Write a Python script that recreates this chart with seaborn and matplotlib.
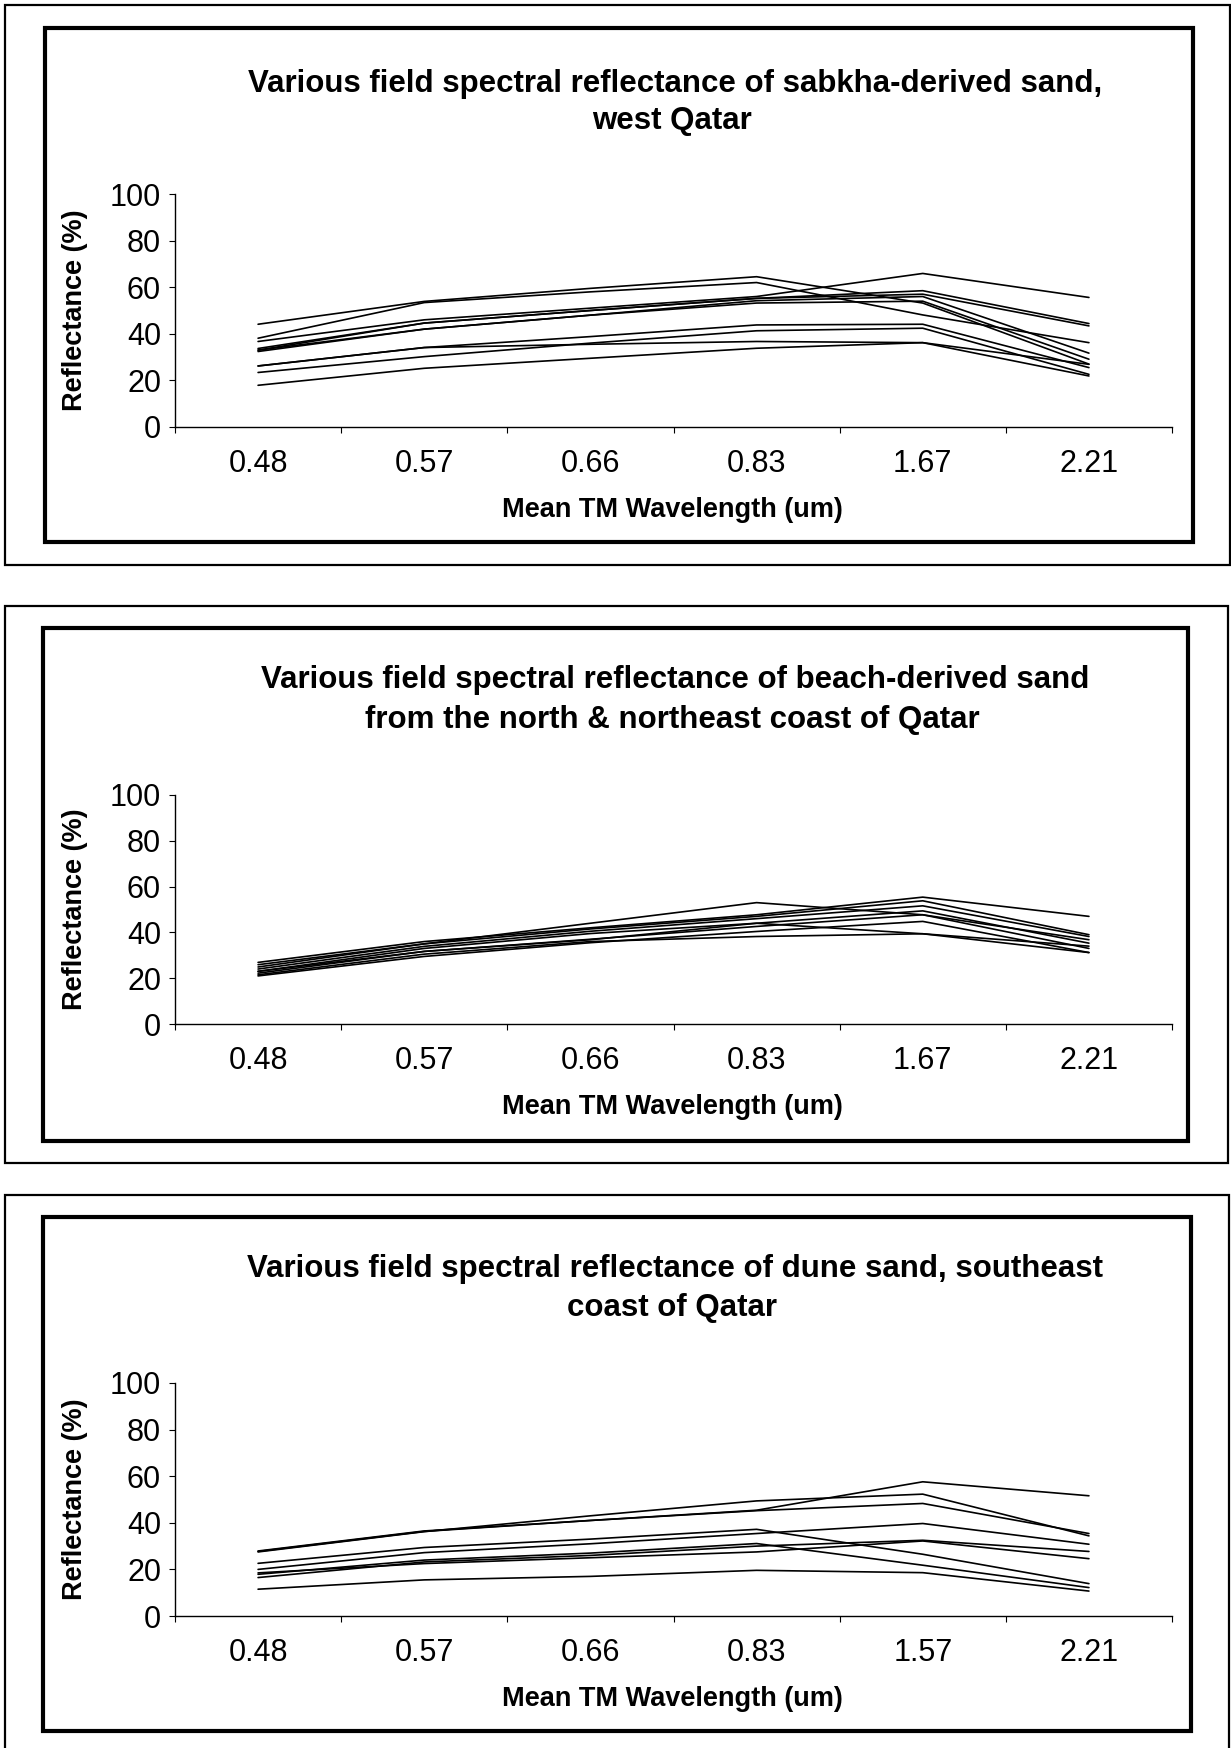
import numpy as np
import pandas as pd
import matplotlib
matplotlib.use("Agg")
import matplotlib.pyplot as plt
from matplotlib.patches import Rectangle
import seaborn as sns

# ---------------- data ----------------
bands_a = ["0.48", "0.57", "0.66", "0.83", "1.67", "2.21"]
bands_b = ["0.48", "0.57", "0.66", "0.83", "1.67", "2.21"]
bands_c = ["0.48", "0.57", "0.66", "0.83", "1.57", "2.21"]

sabkha_curves = [
    [44.1, 53.9, 59.5, 64.5, 53.2, 27.0],
    [38.1, 53.4, 58.0, 62.0, 48.1, 36.2],
    [36.7, 46.0, 51.0, 56.0, 65.9, 55.6],
    [33.7, 44.6, 50.0, 55.2, 58.5, 44.4],
    [33.0, 44.6, 50.0, 55.2, 57.0, 43.4],
    [32.4, 42.0, 48.0, 54.2, 56.0, 31.7],
    [33.0, 42.0, 48.0, 53.2, 54.0, 29.1],
    [26.2, 34.1, 38.8, 43.8, 44.1, 25.5],
    [23.4, 30.2, 36.0, 41.3, 42.4, 22.6],
    [17.9, 25.2, 29.5, 33.8, 36.2, 21.9],
    [26.2, 34.1, 35.5, 36.7, 36.2, 26.9],
]

beach_curves = [
    [24.9, 35.0, 44.0, 53.0, 47.7, 36.8],
    [26.9, 36.0, 42.0, 47.7, 55.4, 47.0],
    [25.9, 35.0, 41.5, 47.0, 53.8, 39.0],
    [24.0, 33.9, 40.5, 46.0, 51.6, 38.2],
    [23.0, 33.0, 39.5, 44.0, 49.4, 35.3],
    [22.2, 31.7, 37.0, 42.6, 47.7, 33.0],
    [21.0, 29.5, 35.5, 40.4, 44.8, 31.2],
    [23.0, 31.7, 36.8, 44.0, 39.4, 31.2],
    [21.5, 30.5, 36.0, 38.2, 39.4, 34.0],
]

dune_curves = [
    [27.9, 36.5, 41.0, 45.4, 57.6, 51.6],
    [27.5, 36.2, 43.0, 49.4, 52.3, 34.4],
    [27.7, 36.3, 41.0, 45.2, 48.3, 35.4],
    [22.6, 29.4, 33.0, 37.2, 26.5, 13.9],
    [20.0, 27.2, 31.0, 35.4, 39.7, 30.8],
    [17.9, 24.0, 27.0, 31.1, 21.8, 12.2],
    [16.5, 23.2, 26.0, 30.0, 32.5, 27.7],
    [18.5, 22.5, 25.0, 27.5, 32.2, 24.6],
    [11.5, 15.5, 17.0, 19.6, 18.6, 10.7],
]

titles = [
    ["Various field spectral reflectance of sabkha-derived sand,", "west Qatar"],
    ["Various field spectral reflectance of beach-derived sand",
     "from the north & northeast coast of Qatar"],
    ["Various field spectral reflectance of dune sand, southeast", "coast of Qatar"],
]
y_ticks = [0, 20, 40, 60, 80, 100]
x_label = "Mean TM Wavelength (um)"
y_label = "Reflectance (%)"

# ---------------- style ----------------
sns.set_theme(style="white")
plt.rcParams["font.family"] = ["Liberation Sans", "DejaVu Sans"]

W, H = 1231, 1748
fig = plt.figure(figsize=(W / 100, H / 100), dpi=100)
fig.patch.set_facecolor("white")


def fx(px):
    return px / W


def fy(py):
    return 1 - py / H


def box(x0, y0, x1, y1, lw):
    r = Rectangle((fx(x0), fy(y1)), fx(x1) - fx(x0), fy(y0) - fy(y1),
                  transform=fig.transFigure, fill=False, edgecolor="black",
                  linewidth=lw, zorder=0)
    fig.patches.append(r)


panels = [
    dict(curves=sabkha_curves, bands=bands_a, title=titles[0],
         outer=(5, 5, 1230, 565), inner=(45, 28, 1193, 542),
         ax_top=194, ax_bot=427, t1=84, t2=121, xl=510),
    dict(curves=beach_curves, bands=bands_b, title=titles[1],
         outer=(5, 606, 1228, 1163), inner=(43, 628, 1188, 1141),
         ax_top=795, ax_bot=1024, t1=680, t2=720, xl=1107),
    dict(curves=dune_curves, bands=bands_c, title=titles[2],
         outer=(5, 1195, 1229, 1760), inner=(43, 1217, 1191, 1731),
         ax_top=1383, ax_bot=1616, t1=1269, t2=1308, xl=1699),
]

AX_L, AX_R = 175, 1172

for p in panels:
    box(*p["outer"], lw=1.6)
    box(*p["inner"], lw=3.0)

    rows = []
    for i, c in enumerate(p["curves"]):
        for j, v in enumerate(c):
            rows.append({"sample": i, "band": j, "refl": v})
    df = pd.DataFrame(rows)

    ax = fig.add_axes([fx(AX_L), fy(p["ax_bot"]), fx(AX_R) - fx(AX_L),
                       fy(p["ax_top"]) - fy(p["ax_bot"])])
    ax.set_facecolor("none")
    sns.lineplot(data=df, x="band", y="refl", units="sample", estimator=None,
                 color="black", linewidth=1.2, ax=ax, legend=False)

    ax.set_xlim(-0.5, len(p["bands"]) - 0.5)
    ax.set_ylim(0, 100)
    ax.set_xticks(range(len(p["bands"])))
    ax.set_xticklabels(p["bands"])
    ax.set_xticks(np.arange(-0.5, len(p["bands"]), 1.0), minor=True)
    ax.set_yticks(y_ticks)
    ax.tick_params(axis="x", which="major", length=0, pad=16, labelsize=22,
                   colors="black")
    ax.tick_params(axis="x", which="minor", length=4, width=0.8, direction="out",
                   bottom=True, colors="black")
    ax.tick_params(axis="y", which="major", length=4, width=0.8, direction="out",
                   left=True, pad=6, labelsize=22, colors="black")
    for s in ["top", "right"]:
        ax.spines[s].set_visible(False)
    for s in ["left", "bottom"]:
        ax.spines[s].set_color("black")
        ax.spines[s].set_linewidth(1.0)
    ax.grid(False)

    ax_h = p["ax_bot"] - p["ax_top"]
    ax_w = AX_R - AX_L
    ax.set_xlabel(x_label, fontsize=19.5, fontweight="bold", color="black")
    ax.xaxis.label.set_va("center")
    ax.xaxis.set_label_coords((672 - AX_L) / ax_w, -(p["xl"] - p["ax_bot"]) / ax_h)
    ax.set_ylabel(y_label, fontsize=19.5, fontweight="bold", color="black")
    ax.yaxis.label.set_va("center")
    ax.yaxis.set_label_coords((75 - AX_L) / ax_w, 0.5)

    fig.text(fx(675), fy(p["t1"]), p["title"][0], ha="center", va="center",
             fontsize=22.5, fontweight="bold", color="black")
    fig.text(fx(672), fy(p["t2"]), p["title"][1], ha="center", va="center",
             fontsize=22.5, fontweight="bold", color="black")

fig.savefig("out.png", dpi=100, facecolor="white")
